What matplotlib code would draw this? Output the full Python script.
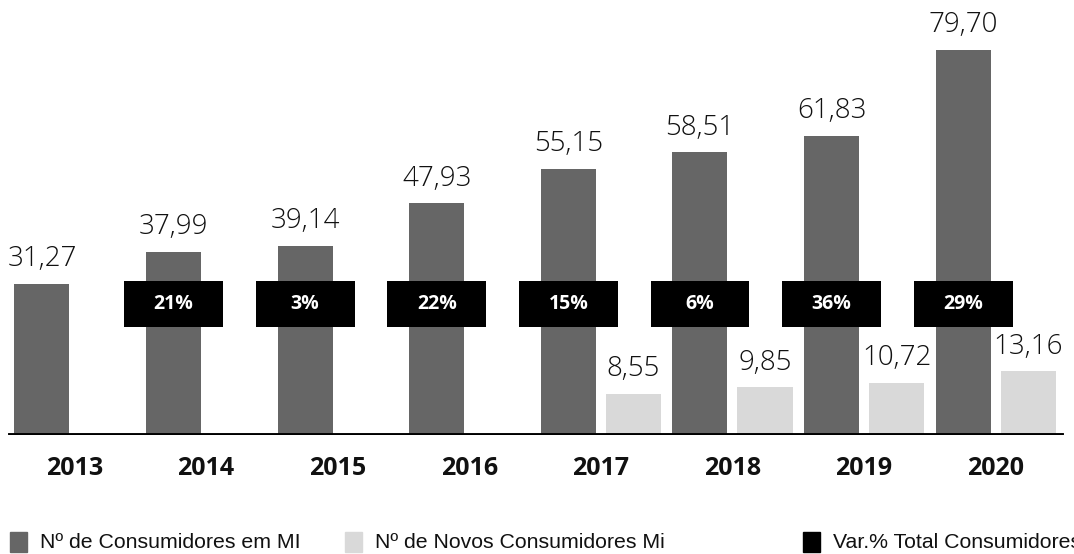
import matplotlib.pyplot as plt
import numpy as np

years = ['2013', '2014', '2015', '2016', '2017', '2018', '2019', '2020']
consumidores = [31.27, 37.99, 39.14, 47.93, 55.15, 58.51, 61.83, 79.70]
novos = [None, None, None, None, 8.55, 9.85, 10.72, 13.16]
variacao = [None, 21, 3, 22, 15, 6, 36, 29]

dark = '#666666'
light = '#d9d9d9'

def fmt(v):
    return ('%.2f' % v).replace('.', ',')

fig = plt.figure(figsize=(10.74, 5.54), dpi=100)
ax = fig.add_axes([0, 119 / 554, 1, 435 / 554])
ax.set_xlim(-0.566, 7.595)
ax.set_ylim(0, 90.06)
ax.axis('off')

x = np.arange(len(years))
off = 0.247
w = 0.418

ax.bar(x - off, consumidores, width=w, color=dark)
for xi, v in zip(x, consumidores):
    ax.text(xi - off, v + 3.7, fmt(v), ha='center', va='baseline',
            fontsize=20, family='Open Sans', fontweight='light', color='#111111')

nx = [xi for xi, v in zip(x, novos) if v is not None]
nv = [v for v in novos if v is not None]
ax.bar(np.array(nx) + off, nv, width=w, color=light)
for xi, v in zip(nx, nv):
    ax.text(xi + off, v + 3.7, fmt(v), ha='center', va='baseline',
            fontsize=20, family='Open Sans', fontweight='light', color='#111111')

# black boxes with the % change
vx = [xi for xi, v in zip(x, variacao) if v is not None]
vv = [v for v in variacao if v is not None]
ax.bar(np.array(vx) - off, 9.5, bottom=22.35, width=0.752, color='black')
for xi, v in zip(vx, vv):
    ax.text(xi - off, 27.1, '%d%%' % v, ha='center', va='center',
            fontsize=14, fontweight='bold', family='Open Sans', color='white')

ax.axhline(0, xmin=10 / 1074, xmax=1062 / 1074, color='black', lw=2.8)

for xi, y in zip(x, years):
    ax.text(xi, -7, y, ha='center', va='center', fontsize=18,
            fontweight='bold', family='Open Sans', color='#111111', clip_on=False)

# legend (last label runs off the right edge like the original)
items = [(dark, 'Nº de Consumidores em MI', 10),
         (light, 'Nº de Novos Consumidores Mi', 345),
         ('black', 'Var.% Total Consumidores', 803)]
for c, lab, px in items:
    fig.patches.append(plt.Rectangle((px / 1074, 2 / 554), 17 / 1074, 20 / 554,
                                     transform=fig.transFigure, color=c))
    fig.text((px + 30) / 1074, 11 / 554, lab, ha='left', va='center',
             fontsize=15.3, family='Liberation Sans', color='#111111')

fig.savefig('out.png', dpi=100)
